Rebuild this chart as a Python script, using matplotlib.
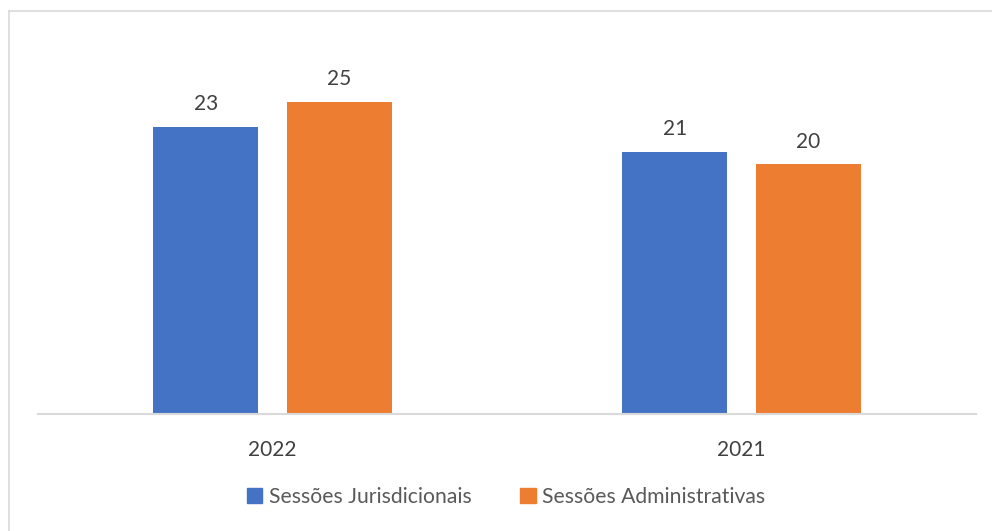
import matplotlib
matplotlib.use("Agg")
import matplotlib.pyplot as plt
import numpy as np
from matplotlib.patches import Patch
from matplotlib.lines import Line2D

categories = ["2022", "2021"]
series_names = ["Sessões Jurisdicionais", "Sessões Administrativas"]
jurisdicionais = [23, 21]
administrativas = [25, 20]
colors = ["#4472C4", "#ED7D31"]

plt.rcParams['font.family'] = ['Lato', 'DejaVu Sans']

W, H = 992, 531
fig = plt.figure(figsize=(W / 100, H / 100), dpi=100)

# chart border (left and top visible)
fig.add_artist(Line2D([8.5 / W, 8.5 / W], [0, 1 - 10.5 / H], transform=fig.transFigure,
                      color="#d9d9d9", lw=1.2))
fig.add_artist(Line2D([8.5 / W, 1], [1 - 10.5 / H, 1 - 10.5 / H], transform=fig.transFigure,
                      color="#d9d9d9", lw=1.2))

ax = fig.add_axes([38 / W, (H - 414) / H, 938 / W, 375 / H])
x = np.arange(len(categories))
bw = 0.224
off = 0.142
b1 = ax.bar(x - off, jurisdicionais, bw, color=colors[0], label=series_names[0])
b2 = ax.bar(x + off, administrativas, bw, color=colors[1], label=series_names[1])
for bars in (b1, b2):
    for r in bars:
        ax.text(r.get_x() + r.get_width() / 2, r.get_height() + 1.0, f"{int(r.get_height())}",
                ha="center", va="bottom", fontsize=15, color="#404040")

ax.set_xlim(-0.5, 1.5)
ax.set_ylim(0, 30)
ax.set_yticks([])
ax.set_xticks(x)
ax.set_xticklabels(categories, fontsize=15, color="#404040")
ax.tick_params(axis="x", length=0, pad=19)
for s in ["top", "right", "left"]:
    ax.spines[s].set_visible(False)
ax.spines["bottom"].set_color("#d9d9d9")
ax.spines["bottom"].set_linewidth(1.5)

handles = [Patch(color=colors[0]), Patch(color=colors[1])]
fig.legend(handles, series_names, loc="center", bbox_to_anchor=(506 / W, 1 - 497 / H),
           ncol=2, frameon=False, fontsize=15.2, handlelength=0.75, handleheight=0.75,
           handletextpad=0.3, columnspacing=2.3, labelcolor="#595959")

fig.savefig("out.png", dpi=100)
